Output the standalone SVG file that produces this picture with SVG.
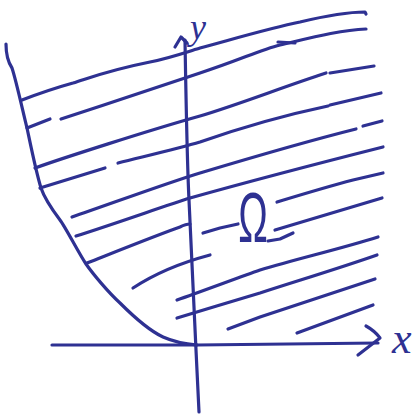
<svg xmlns="http://www.w3.org/2000/svg" width="417" height="417" viewBox="0 0 417 417">
<style>
.s{fill:none;stroke:#2e3192;stroke-width:3.2;stroke-linecap:round;stroke-linejoin:round}
.t{fill:#2e3192;font-family:"Liberation Serif",serif;font-style:italic}
</style>
<rect width="417" height="417" fill="#ffffff"/>
<g id="region-boundary">
<path class="s" d="M6,44 C6,56 8,62 12,68 C16,80 23,112 27,128 C30,142 36,172 41,188 C45,200 54,212 60,220 C66,228 78,252 86,264 C93,274 108,292 120,303 C132,315 150,331 163,337 C172,341 184,344 197,345"/>
</g>
<g id="hatching">
<path class="s" d="M22,100 C35,95 55,88 73,83 C95,76 110,70 150,62 C170,58 190,51 200,48 C230,40 270,28 300,22 C325,16 350,12 365,12 L366,14"/>
<polyline class="s" points="27,128 50,119"/>
<path class="s" d="M61,119 C110,103 170,83 200,73 C240,60 260,50 280,45 C310,38 340,30 366,29"/>
<polyline class="s" points="278,42 295,43"/>
<path class="s" d="M35,168 C60,159 150,130 200,116 C240,104 280,88 326,73"/>
<polyline class="s" points="330,73 374,66"/>
<polyline class="s" points="40,188 105,168"/>
<path class="s" d="M118,163 C150,155 180,148 200,142 C240,128 290,114 328,106"/>
<polyline class="s" points="330,105 381,93"/>
<path class="s" d="M72,217 C110,204 170,182 200,173 C250,158 300,143 356,129"/>
<polyline class="s" points="363,126 382,121"/>
<path class="s" d="M76,236 C120,222 170,204 190,198 C240,184 300,168 383,147"/>
<path class="s" d="M87,263 C120,250 160,234 180,227 Q186,224 190,224"/>
<polyline class="s" points="203,233 220,228 238,224"/>
<polyline class="s" points="268,241 280,239 293,233"/>
<path class="s" d="M277,202 C300,195 330,186 353,180 L383,173"/>
<polyline class="s" points="275,230 382,198"/>
<path class="s" d="M133,288 Q165,267 210,255"/>
<path class="s" d="M177,300 C200,292 240,277 260,270 C300,258 340,249 378,237"/>
<path class="s" d="M177,318 C200,311 240,299 260,293 C300,280 340,268 377,255"/>
<polyline class="s" points="228,329 260,317 375,279"/>
<polyline class="s" points="297,333 373,305"/>
</g>
<g id="x-axis">
<polyline class="s" points="52,345 197,345 378,343"/>
<path class="s" d="M366,326 Q375,331 380,338 L358,355"/>
</g>
<g id="y-axis">
<path class="s" d="M185,40 C186,100 187,160 189,200 C192,260 194,310 196,350 L199,412"/>
<polyline class="s" points="175,47 181,37 187,43"/>
</g>
<g id="labels">
<text class="t" x="190" y="39" font-size="36">y</text>
<text class="t" x="392" y="353" font-size="44">x</text>
<text x="0" y="0" font-size="44" fill="#2e3192" font-family="Liberation Sans, sans-serif" text-anchor="middle" transform="translate(253,242) scale(0.9,1.6)">Ω</text>
</g>
</svg>
